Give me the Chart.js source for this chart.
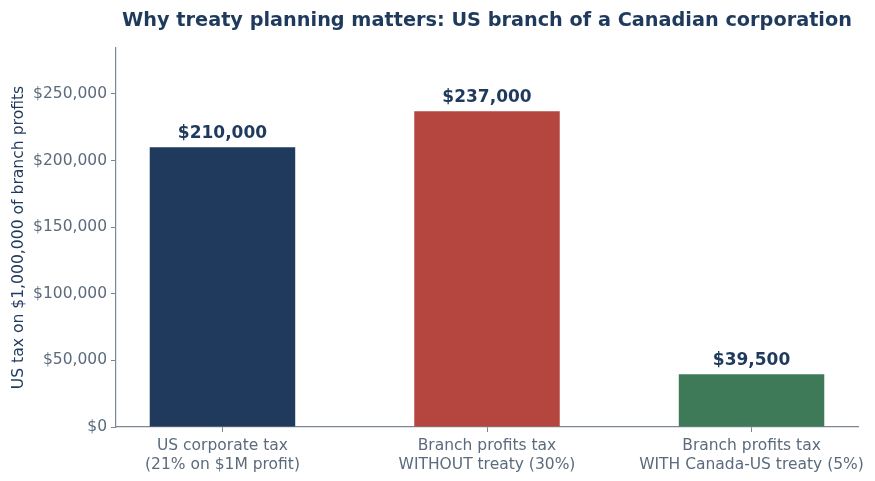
<!DOCTYPE html>
<html>
<head>
<meta charset="utf-8">
<script src="https://cdn.jsdelivr.net/npm/chart.js@4.4.1/dist/chart.umd.min.js"></script>
<style>
  html, body { margin: 0; padding: 0; background: #fff; }
  #wrap { width: 875px; height: 481px; }
</style>
</head>
<body>
<div id="wrap"><canvas id="chart"></canvas></div>
<script>
const categories = [
  ['US corporate tax', '(21% on $1M profit)'],
  ['Branch profits tax', 'WITHOUT treaty (30%)'],
  ['Branch profits tax', 'WITH Canada-US treaty (5%)']
];
const taxValues = [210000, 237000, 39500];
const barColors = ['#1f3a5c', '#b5463f', '#3f7a58'];
const yTicks = [0, 50000, 100000, 150000, 200000, 250000];

const navy = '#1f3a5c';
const tickGray = '#5b6b7d';
const axisGray = '#7b8796';
const money = v => '$' + v.toLocaleString('en-US');

// bold value labels above each bar
const valueLabels = {
  id: 'valueLabels',
  afterDatasetsDraw(chart) {
    const ctx = chart.ctx;
    const meta = chart.getDatasetMeta(0);
    ctx.save();
    ctx.font = 'bold 17px "DejaVu Sans"';
    ctx.fillStyle = navy;
    ctx.textAlign = 'center';
    ctx.textBaseline = 'bottom';
    meta.data.forEach((bar, i) => {
      ctx.fillText(money(taxValues[i]), bar.x, bar.y - 5);
    });
    ctx.restore();
  }
};

// title centred over the plot area
const plotTitle = {
  id: 'plotTitle',
  afterDraw(chart) {
    const ctx = chart.ctx;
    const a = chart.chartArea;
    ctx.save();
    ctx.font = 'bold 19.3px "DejaVu Sans"';
    ctx.fillStyle = navy;
    ctx.textAlign = 'center';
    ctx.textBaseline = 'middle';
    ctx.fillText('Why treaty planning matters: US branch of a Canadian corporation', (a.left + a.right) / 2, 21);
    ctx.restore();
  }
};

new Chart(document.getElementById('chart'), {
  type: 'bar',
  data: {
    datasets: [{
      data: taxValues.map((v, i) => ({ x: i, y: v })),
      backgroundColor: barColors,
      barPercentage: 0.55,
      categoryPercentage: 1
    }]
  },
  plugins: [valueLabels, plotTitle],
  options: {
    responsive: true,
    maintainAspectRatio: false,
    animation: false,
    layout: { padding: { top: 48, right: 17, left: 0, bottom: 0 } },
    plugins: {
      legend: { display: false },
      tooltip: { enabled: false }
    },
    scales: {
      x: {
        type: 'linear',
        offset: false,
        min: -0.4025,
        max: 2.4025,
        afterBuildTicks: s => { s.ticks = categories.map((c, i) => ({ value: i })); },
        afterFit: s => { s.height = 54; },
        grid: { offset: false, drawOnChartArea: false, drawTicks: true, tickLength: 5, tickColor: axisGray },
        border: { color: axisGray, width: 1.2 },
        ticks: {
          color: tickGray,
          font: { family: 'DejaVu Sans', size: 15.5 },
          padding: 5,
          maxRotation: 0,
          autoSkip: false,
          callback: v => categories[v] || ''
        }
      },
      y: {
        min: 0,
        max: 284400,
        afterBuildTicks: s => { s.ticks = yTicks.map(v => ({ value: v })); },
        afterFit: s => { s.width = 116; },
        grid: { drawOnChartArea: false, drawTicks: true, tickLength: 5, tickColor: axisGray },
        border: { color: axisGray, width: 1.2 },
        title: {
          display: true,
          text: 'US tax on $1,000,000 of branch profits',
          color: navy,
          font: { family: 'DejaVu Sans', size: 15.6 },
          padding: { top: 10, bottom: 0 }
        },
        ticks: {
          color: tickGray,
          font: { family: 'DejaVu Sans', size: 15.5 },
          padding: 4,
          callback: v => money(v)
        }
      }
    }
  }
});
</script>
</body>
</html>
